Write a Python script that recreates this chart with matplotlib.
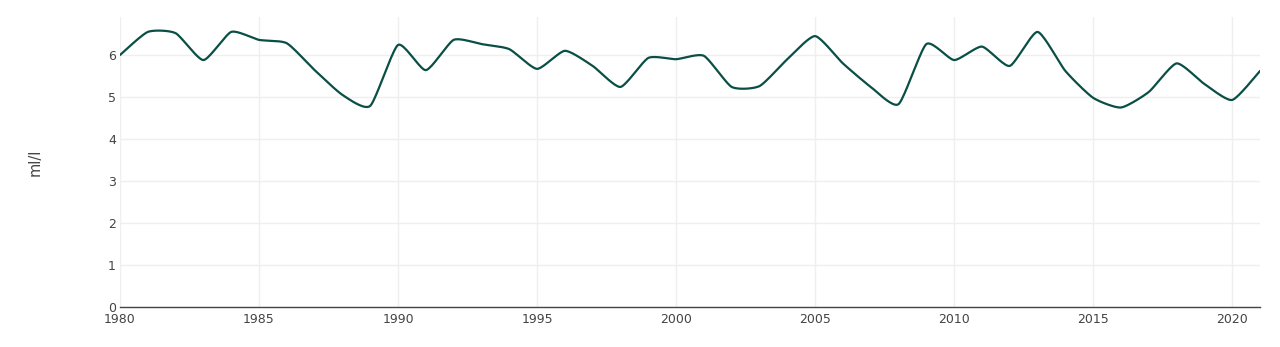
import numpy as np
import matplotlib
matplotlib.use("Agg")
import matplotlib.pyplot as plt

# Yearly values
years = np.arange(1980, 2022)
values = [6.00, 6.55, 6.52, 5.88, 6.55, 6.36, 6.28, 5.64, 5.05, 4.79,
          6.24, 5.64, 6.36, 6.26, 6.14, 5.67, 6.10, 5.74, 5.24, 5.93,
          5.90, 5.98, 5.24, 5.26, 5.90, 6.45, 5.80, 5.24, 4.83, 6.26,
          5.88, 6.20, 5.74, 6.55, 5.62, 4.98, 4.75, 5.12, 5.80, 5.31,
          4.93, 5.62]
x_ticks = [1980, 1985, 1990, 1995, 2000, 2005, 2010, 2015, 2020]
y_ticks = [0, 1, 2, 3, 4, 5, 6]
y_label = "ml/l"

line_color = "#0a4f45"
text_color = "#444444"
grid_color = "#efefef"


def spline(x, y, n=20, tension=0.2):
    # Catmull-Rom style smoothing, close to plotly's "spline" shape
    x = np.asarray(x, float)
    y = np.asarray(y, float)
    px = np.concatenate([[x[0]], x, [x[-1]]])
    py = np.concatenate([[y[0]], y, [y[-1]]])
    xs, ys = [], []
    for i in range(1, len(px) - 2):
        p0, p1, p2, p3 = (np.array([px[j], py[j]]) for j in range(i - 1, i + 3))
        c1 = p1 + (p2 - p0) * tension / 2
        c2 = p2 - (p3 - p1) * tension / 2
        t = np.linspace(0, 1, n, endpoint=False)[:, None]
        b = ((1 - t) ** 3) * p1 + 3 * ((1 - t) ** 2) * t * c1 + 3 * (1 - t) * t ** 2 * c2 + t ** 3 * p2
        xs.append(b[:, 0])
        ys.append(b[:, 1])
    xs.append([x[-1]])
    ys.append([y[-1]])
    return np.concatenate(xs), np.concatenate(ys)


fig = plt.figure(figsize=(12.8, 3.47), dpi=100)
ax = fig.add_axes([120 / 1280, 1 - 307 / 347, 1140 / 1280, 290 / 347])

sx, sy = spline(years, values)
ax.plot(sx, sy, color=line_color, lw=1.6, solid_capstyle="round", zorder=3)

ax.set_xlim(1980, 2021)
ax.set_ylim(0, 6.905)
ax.set_xticks(x_ticks)
ax.set_yticks(y_ticks)
ax.tick_params(length=0, labelsize=9, colors=text_color)
ax.tick_params(axis="y", pad=3)
ax.tick_params(axis="x", pad=4)
ax.grid(True, color=grid_color, lw=1)
ax.set_axisbelow(True)
for s in ["top", "right", "left"]:
    ax.spines[s].set_visible(False)
ax.spines["bottom"].set_color(text_color)
ax.spines["bottom"].set_linewidth(1)

fig.text(35 / 1280, 1 - 162 / 347, y_label, rotation=90, ha="center", va="center",
         fontsize=10.5, color=text_color)

fig.savefig("out.png", dpi=100)
